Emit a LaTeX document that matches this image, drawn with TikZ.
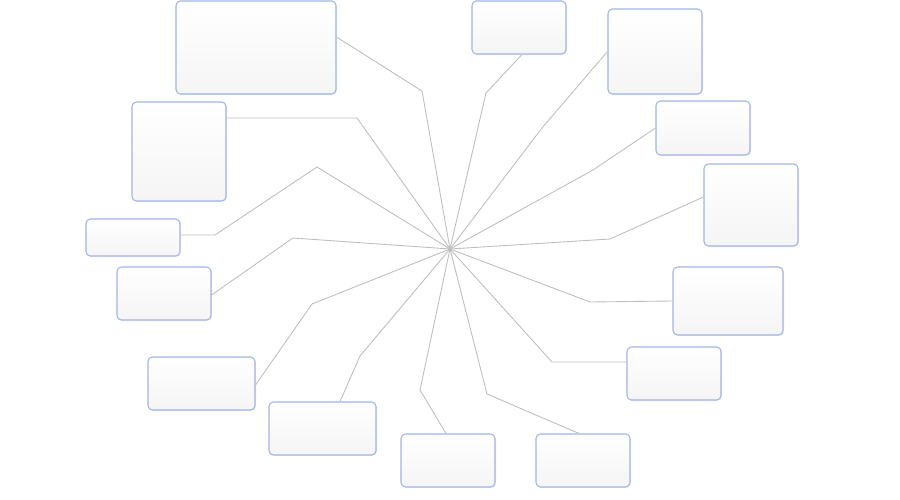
\documentclass[tikz,border=0pt]{standalone}
\usetikzlibrary{calc,shadows}
\definecolor{boxline}{RGB}{160,180,230}
\definecolor{spoke}{RGB}{190,190,190}
\tikzset{
  bubble/.style={draw=boxline,line width=0.6pt,rounded corners=2.5pt,
    top color=white,bottom color=black!4,inner sep=0pt,
    drop shadow={opacity=0.12,shadow xshift=0.6pt,shadow yshift=-0.6pt}},
  spokeline/.style={draw=spoke,line width=0.5pt}
}
\begin{document}
\begin{tikzpicture}[x=0.02cm,y=-0.02cm]
  \useasboundingbox (0,0) rectangle (900,500);
  \coordinate (hub) at (450,249);
  % boxes, clockwise from the top left
  \node[bubble,minimum width=3.2cm,minimum height=1.86cm] (a) at (256,47.5) {};
  \node[bubble,minimum width=1.88cm,minimum height=1.06cm] (b) at (519,27.5) {};
  \node[bubble,minimum width=1.88cm,minimum height=1.7cm] (c) at (655,51.5) {};
  \node[bubble,minimum width=1.88cm,minimum height=1.08cm] (d) at (703,128) {};
  \node[bubble,minimum width=1.88cm,minimum height=1.64cm] (e) at (751,205) {};
  \node[bubble,minimum width=2.2cm,minimum height=1.36cm] (f) at (728,301) {};
  \node[bubble,minimum width=1.88cm,minimum height=1.06cm] (g) at (674,373.5) {};
  \node[bubble,minimum width=1.88cm,minimum height=1.06cm] (h) at (583,460.5) {};
  \node[bubble,minimum width=1.88cm,minimum height=1.06cm] (i) at (448,460.5) {};
  \node[bubble,minimum width=2.14cm,minimum height=1.06cm] (j) at (322.5,428.5) {};
  \node[bubble,minimum width=2.14cm,minimum height=1.06cm] (k) at (201.5,383.5) {};
  \node[bubble,minimum width=1.88cm,minimum height=1.06cm] (l) at (164,293.5) {};
  \node[bubble,minimum width=1.88cm,minimum height=0.74cm] (m) at (133,237.5) {};
  \node[bubble,minimum width=1.88cm,minimum height=1.98cm] (n) at (179,151.5) {};
  % bends
  \coordinate (bendA) at (422,91);
  \coordinate (bendB) at (486,93);
  \coordinate (bendC) at (542,128);
  \coordinate (bendD) at (593,170);
  \coordinate (bendE) at (610,239);
  \coordinate (bendF) at (590,302);
  \coordinate (bendG) at (552,362);
  \coordinate (bendH) at (487,394);
  \coordinate (bendI) at (420,390);
  \coordinate (bendJ) at (360,356);
  \coordinate (bendK) at (312,304);
  \coordinate (bendL) at (293,238);
  \coordinate (bendM) at (317,167);
  \coordinate (bendMM) at (215,235);
  \coordinate (bendN) at (357,118);
  % spokes
  \draw[spokeline] (hub) -- (bendA) -- ($(a.east)+(0,-10.5)$);
  \draw[spokeline] (hub) -- (bendB) -- ($(b.south)+(3,0)$);
  \draw[spokeline] (hub) -- (bendC) -- (c.west);
  \draw[spokeline] (hub) -- (bendD) -- (d.west);
  \draw[spokeline] (hub) -- (bendE) -- ($(e.west)+(0,-8)$);
  \draw[spokeline] (hub) -- (bendF) -- (f.west);
  \draw[spokeline] (hub) -- (bendG) -- ($(g.west)+(0,-11.5)$);
  \draw[spokeline] (hub) -- (bendH) -- ($(h.north)+(-4,0)$);
  \draw[spokeline] (hub) -- (bendI) -- ($(i.north)+(-2,0)$);
  \draw[spokeline] (hub) -- (bendJ) -- ($(j.north)+(17.5,0)$);
  \draw[spokeline] (hub) -- (bendK) -- ($(k.east)+(0,1.5)$);
  \draw[spokeline] (hub) -- (bendL) -- ($(l.east)+(0,1.5)$);
  \draw[spokeline] (hub) -- (bendM) -- (bendMM) -- ($(m.east)+(0,-2.5)$);
  \draw[spokeline] (hub) -- (bendN) -- ($(n.east)+(0,-33.5)$);
\end{tikzpicture}
\end{document}
